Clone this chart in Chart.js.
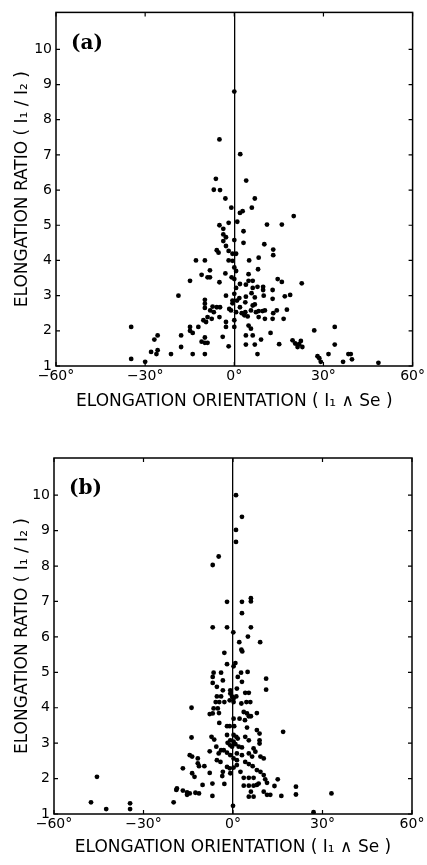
<!DOCTYPE html>
<html>
<head>
<meta charset="utf-8">
<script src="https://cdn.jsdelivr.net/npm/chart.js@4.4.1/dist/chart.umd.min.js"></script>
<style>
  body { margin: 0; background: #fff; }
  #wrap { position: relative; width: 427px; height: 865px; }
  canvas { position: absolute; left: 0; }
</style>
</head>
<body>
<div id="wrap">
  <canvas id="chartA" width="427" height="413" style="top:0px"></canvas>
  <canvas id="chartB" width="427" height="435" style="top:430px"></canvas>
</div>
<script>
// panel (a): elongation orientation (deg) and elongation ratio
var orientA = [0, -5.0, 2.0, -6.2, 4.0, -6.9, -4.8, -3.0, 6.9, -1.0, 5.9, 1.9, 2.8, 20.0, -5.0, -3.7, -1.9, 1.0, 3.1, 11.0,
    16.0, -3.7, -2.8, -3.7, 0, 3.1, 10.1, -2.8, -5.9, -5.3, -1.9, -0.6, 0.6, 13.1, 13.1, -12.9, -9.9, -1.9, -0.6, 5.0,
    8.2, 8.0, -8.2, 0, 0.6, -9.0, -8.2, -11.0, -14.9, -5.0, -3.0, -0.9, 0, 0.6, 4.8, 4.8, 6.2, 1.9, 3.9, 14.6,
    16.0, 22.7, 9.7, 9.7, 6.2, 7.8, 12.9, 5.8, 6.9, 3.9, 1.7, 0.9, 0, -0.6, -2.8, -18.8, 9.9, 12.9, 17.0, 18.8,
    -9.9, -9.9, -9.9, -7.3, -5.9, -4.8, -1.7, 1.9, 3.7, 6.2, 6.9, -0.6, 5.6, 3.7, 2.5, 7.3, 8.2, 9.5, 10.3, 14.3,
    17.7, 13.1, -8.1, -6.9, -1.1, 0.6, 3.4, 4.5, 8.2, 10.3, 12.9, 16.6, -9.0, -7.6, -5.0, -10.4, -9.5, -2.8, 0, 4.8,
    -2.8, 0, 5.6, -14.9, -12.1, -14.9, -14.0, -34.7, -25.8, -26.9, -17.9, -3.9, 3.9, 6.2, 12.2, 9.0, 26.9, 33.8, 19.6, 20.5,
    21.8, 22.4, 21.3, 22.9, -11.0, -9.9, -9.0, -9.9, -17.9, -1.9, 3.9, 6.9, 15.1, 33.8, -25.8, -26.2, -28.0, -21.3, -14.0, -9.9,
    7.8, -34.7, -30.0, 28.0, 28.6, 29.1, 31.7, 36.6, 38.4, 39.2, 39.6, 48.5];
var ratioA = [8.8, 7.44, 7.02, 6.32, 6.27, 6.01, 6.0, 5.76, 5.76, 5.5, 5.5, 5.35, 5.4, 5.26, 5.0, 4.9, 5.07, 5.1, 4.83, 5.02,
    5.02, 4.74, 4.66, 4.55, 4.58, 4.5, 4.46, 4.41, 4.29, 4.22, 4.27, 4.19, 4.19, 4.31, 4.15, 4.0, 4.0, 4.0, 3.99, 4.0,
    4.08, 3.75, 3.72, 3.8, 3.7, 3.52, 3.52, 3.59, 3.42, 3.38, 3.63, 3.52, 3.47, 3.22, 3.61, 3.42, 3.42, 3.33, 3.31, 3.47,
    3.39, 3.35, 3.25, 3.16, 3.22, 3.25, 3.16, 3.07, 2.95, 2.97, 2.93, 2.86, 3.05, 2.86, 3.0, 3.0, 3.0, 2.91, 2.98, 3.02,
    2.88, 2.77, 2.65, 2.69, 2.67, 2.67, 2.62, 2.67, 2.81, 2.72, 2.75, 2.78, 2.58, 2.53, 2.5, 2.53, 2.56, 2.56, 2.58, 2.58,
    2.6, 2.5, 2.58, 2.53, 2.58, 2.53, 2.44, 2.41, 2.39, 2.34, 2.34, 2.34, 2.39, 2.34, 2.39, 2.3, 2.25, 2.25, 2.3, 2.15,
    2.11, 2.11, 2.06, 2.11, 2.11, 2.0, 1.94, 2.11, 1.87, 1.75, 1.87, 1.83, 1.87, 1.87, 1.94, 1.75, 2.01, 2.11, 1.73, 1.64,
    1.62, 1.71, 1.54, 1.54, 1.69, 1.66, 1.66, 1.81, 1.54, 1.56, 1.61, 1.61, 1.62, 1.61, 1.45, 1.34, 1.4, 1.34, 1.34, 1.34,
    1.34, 1.2, 1.12, 1.28, 1.22, 1.12, 1.34, 1.12, 1.34, 1.34, 1.19, 1.09];

// panel (b)
var orientB = [1.0, 3.0, 1.0, 1.0, -4.8, -6.8, -2.0, 3.0, 6.0, 6.0, 3.0, -6.8, -2.0, 0.1, 6.0, 5.0, 2.1, 9.1, 2.8, -2.9,
    3.1, -2.0, 0.8, 0.2, -6.5, -4.0, 2.7, 4.9, 1.6, 11.1, 11.1, -6.8, -6.8, -3.4, -5.4, -3.4, -0.9, 3.0, 1.3, 4.1,
    5.3, -5.4, -4.0, -0.9, -0.3, 0.2, 1.1, -1.1, -5.8, -4.6, -2.9, 0.2, 4.5, 5.8, 2.8, -13.9, -6.5, -5.1, -6.8, -7.8,
    -4.7, 3.6, 4.7, 5.3, 6.0, 8.0, 2.2, 4.0, -4.6, 0.2, -1.1, -2.0, 0.4, 4.7, 8.0, 8.9, 16.8, -13.9, -7.2, -6.3,
    -2.0, 0.2, 1.1, 1.6, 4.1, 5.3, -0.9, -1.8, -0.9, -0.3, 0.2, 0.8, 8.9, 8.9, 1.9, 3.0, 6.9, 7.5, -4.0, -3.1,
    -4.8, -7.8, -5.6, -2.0, -0.9, 1.3, 5.3, 6.4, 3.0, -14.5, -13.7, -11.8, -9.6, -11.4, -11.8, -16.8, 9.2, 10.3, -5.4, -4.2,
    0.2, 1.3, 4.1, 5.3, -2.0, -1.1, 0.2, 1.3, 6.6, 8.0, 2.5, -0.9, -13.7, -12.9, -7.8, -3.4, -3.6, 9.2, 10.3, 3.6,
    5.3, 6.9, 10.8, 15.0, -45.6, -10.2, -6.9, -2.9, 3.6, 5.3, 6.9, 8.0, 8.6, 11.4, 13.9, 21.1, -18.8, -19.0, -16.8, -15.4,
    -14.5, -12.6, -11.4, -15.4, 6.0, 5.3, 6.9, 10.3, 11.4, 12.5, 16.2, 21.1, 33.0, -6.9, -47.6, -42.5, -34.5, -34.5, -19.9, 0,
    27.0];
var ratioB = [10.0, 9.39, 9.02, 8.68, 8.27, 8.03, 6.99, 6.99, 7.09, 7.0, 6.67, 6.27, 6.27, 6.13, 6.27, 6.01, 5.85, 5.85, 5.64, 5.55,
    5.59, 5.23, 5.26, 5.17, 4.99, 4.99, 4.99, 5.01, 4.87, 4.82, 4.51, 4.87, 4.7, 4.77, 4.59, 4.49, 4.49, 4.73, 4.54, 4.42,
    4.42, 4.32, 4.32, 4.4, 4.31, 4.26, 4.32, 4.21, 4.16, 4.16, 4.16, 4.16, 4.16, 4.16, 4.12, 4.0, 3.98, 3.98, 3.84, 3.82,
    3.85, 3.88, 3.84, 3.76, 3.76, 3.85, 3.69, 3.65, 3.57, 3.69, 3.48, 3.48, 3.48, 3.44, 3.37, 3.27, 3.32, 3.16, 3.18, 3.1,
    3.23, 3.23, 3.18, 3.13, 3.18, 3.08, 3.08, 3.01, 2.94, 2.9, 3.04, 2.97, 3.08, 2.99, 2.9, 2.88, 2.85, 2.76, 2.8, 2.8,
    2.71, 2.77, 2.9, 2.73, 2.66, 2.71, 2.71, 2.62, 2.66, 2.66, 2.62, 2.57, 2.35, 2.35, 2.43, 2.29, 2.62, 2.57, 2.52, 2.47,
    2.57, 2.52, 2.47, 2.41, 2.33, 2.29, 2.31, 2.38, 2.35, 2.24, 2.19, 2.15, 2.15, 2.05, 2.16, 2.19, 2.07, 2.19, 2.1, 2.02,
    2.02, 2.02, 1.98, 1.98, 2.05, 1.82, 1.86, 1.85, 1.8, 1.8, 1.8, 1.82, 1.86, 1.88, 1.79, 1.77, 1.72, 1.68, 1.66, 1.61,
    1.58, 1.6, 1.58, 1.54, 1.63, 1.49, 1.49, 1.63, 1.54, 1.54, 1.51, 1.55, 1.58, 1.51, 1.33, 1.14, 1.3, 1.14, 1.33, 1.23,
    1.05];

var xTicks = [-60, -30, 0, 30, 60];
var yTicks = [1, 2, 3, 4, 5, 6, 7, 8, 9, 10];
var xTitle = 'ELONGATION ORIENTATION ( I\u2081 \u2227 Se )';
var yTitle = 'ELONGATION RATIO ( I\u2081 / I\u2082 )';

var fontFam = '"DejaVu Sans", sans-serif';

function toPoints(xs, ys) {
    var pts = [];
    for (let i = 0; i < xs.length; i++) {
        pts.push({ x: xs[i], y: ys[i] });
    }
    return pts;
}

// frame, inward ticks and the panel letter
var framePlugin = {
    id: 'frame',
    afterDraw: function (chart, args, opts) {
        var ctx = chart.ctx;
        var a = chart.chartArea;
        var xs = chart.scales.x, ys = chart.scales.y;
        ctx.save();
        ctx.strokeStyle = '#000';
        ctx.lineWidth = 1.5;
        ctx.strokeRect(a.left, a.top, a.right - a.left, a.bottom - a.top);
        ctx.lineWidth = 1.2;
        ctx.beginPath();
        yTicks.forEach(function (v) {
            var py = ys.getPixelForValue(v);
            ctx.moveTo(a.left, py); ctx.lineTo(a.left + 4, py);
            ctx.moveTo(a.right, py); ctx.lineTo(a.right - 4, py);
        });
        xTicks.forEach(function (v) {
            var px = xs.getPixelForValue(v);
            ctx.moveTo(px, a.top); ctx.lineTo(px, a.top + 4);
            ctx.moveTo(px, a.bottom); ctx.lineTo(px, a.bottom - 4);
        });
        ctx.stroke();
        ctx.fillStyle = '#000';
        ctx.font = 'bold 20px "DejaVu Serif", serif';
        ctx.textBaseline = 'middle';
        ctx.textAlign = 'left';
        ctx.fillText(opts.label, a.left + 15, a.top + 31);
        ctx.restore();
    }
};

function CreateChart(id, pts, label, pad, yWidth, xHeight) {
    var ctx = document.getElementById(id).getContext('2d');
    return new Chart(ctx, {
        type: 'scatter',
        data: {
            datasets: [{
                data: pts,
                backgroundColor: '#000',
                borderWidth: 0,
                pointRadius: 2.4,
                pointHoverRadius: 2.4
            }]
        },
        options: {
            responsive: false,
            animation: false,
            devicePixelRatio: 1,
            layout: { padding: pad },
            plugins: {
                legend: { display: false },
                tooltip: { enabled: false },
                frame: { label: label }
            },
            scales: {
                x: {
                    type: 'linear',
                    min: -60,
                    max: 60,
                    afterFit: function (s) { s.height = xHeight; },
                    border: { display: false },
                    grid: {
                        drawTicks: false,
                        lineWidth: 1.3,
                        color: function (c) { return c.tick && c.tick.value === 0 ? '#000' : 'rgba(0,0,0,0)'; }
                    },
                    ticks: {
                        stepSize: 30,
                        padding: 2,
                        maxRotation: 0,
                        color: '#000',
                        font: { family: fontFam, size: 14 },
                        callback: function (v) { return (v < 0 ? '\u2212' : '') + Math.abs(v) + '\u00b0'; }
                    },
                    title: {
                        display: true,
                        text: xTitle,
                        color: '#000',
                        padding: 0,
                        font: { family: fontFam, size: 17 }
                    }
                },
                y: {
                    type: 'linear',
                    min: 1,
                    max: 11.05,
                    afterFit: function (s) { s.width = yWidth; },
                    border: { display: false },
                    grid: { display: false, drawTicks: false },
                    ticks: {
                        stepSize: 1,
                        includeBounds: false,
                        padding: 4,
                        color: '#000',
                        font: { family: fontFam, size: 14 },
                        callback: function (v) { return yTicks.indexOf(v) >= 0 ? v : ''; }
                    },
                    title: {
                        display: true,
                        text: yTitle,
                        color: '#000',
                        padding: { top: 12, bottom: 0 },
                        font: { family: fontFam, size: 17 }
                    }
                }
            }
        },
        plugins: [framePlugin]
    });
}

var chartA = CreateChart('chartA', toPoints(orientA, ratioA), '(a)',
    { top: 9, right: 14, bottom: 0.8, left: 0 }, 56, 46.2);
var chartB = CreateChart('chartB', toPoints(orientB, ratioB), '(b)',
    { top: 28, right: 15, bottom: 6.8, left: 0 }, 54, 44.2);
</script>
</body>
</html>
